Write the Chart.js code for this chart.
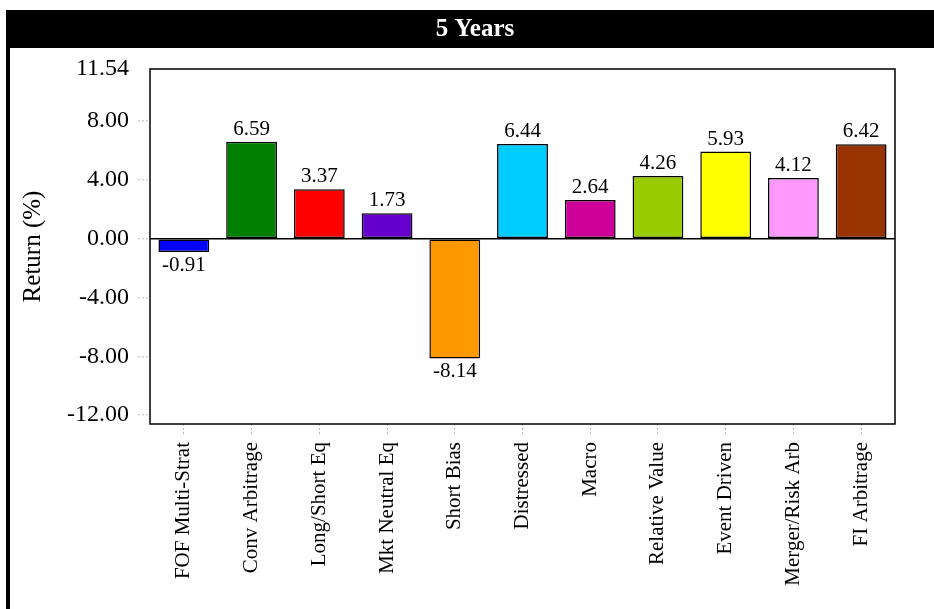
<!DOCTYPE html>
<html lang="en">
<head>
    <meta charset="UTF-8">
    <title>5 Years</title>
    <script src="https://cdn.jsdelivr.net/npm/chart.js"></script>
    <style>
        body {
            margin: 0;
            background: #ffffff;
        }
        #wrap {
            position: relative;
            width: 934px;
            height: 609px;
        }
    </style>
</head>
<body>

<div id="wrap">
    <canvas id="retChart"></canvas>
</div>

<script>
    const categorias = ['FOF Multi-Strat', 'Conv Arbitrage', 'Long/Short Eq', 'Mkt Neutral Eq', 'Short Bias',
        'Distressed', 'Macro', 'Relative Value', 'Event Driven', 'Merger/Risk Arb', 'FI Arbitrage'];
    const retornos = [-0.91, 6.59, 3.37, 1.73, -8.14, 6.44, 2.64, 4.26, 5.93, 4.12, 6.42];
    const cores = ['#0000ff', '#008000', '#ff0000', '#6600cc', '#ff9900', '#00ccff',
        '#cc0099', '#99cc00', '#ffff00', '#ff99ff', '#993300'];
    const ticksY = [11.54, 8, 4, 0, -4, -8, -12];
    const titulo = '5 Years';

    const serif = '"Liberation Serif", "Times New Roman", serif';

    // barra preta do titulo + borda esquerda + moldura do grafico + rotulos
    const moldura = {
        id: 'moldura',
        beforeDraw(chart) {
            const c = chart.ctx;
            c.save();
            c.fillStyle = '#ffffff';
            c.fillRect(0, 0, chart.width, chart.height);
            c.fillStyle = '#000000';
            c.fillRect(6, 10, chart.width - 6, 38);
            c.fillRect(6, 10, 4, chart.height - 10);
            c.fillStyle = '#ffffff';
            c.font = 'bold 25px ' + serif;
            c.textAlign = 'center';
            c.textBaseline = 'middle';
            c.fillText(titulo, 475, 30);
            c.restore();
        },
        afterDatasetsDraw(chart) {
            const c = chart.ctx;
            const a = chart.chartArea;
            c.save();
            c.strokeStyle = '#000000';
            c.lineWidth = 1.5;
            c.strokeRect(a.left, a.top, a.right - a.left, a.bottom - a.top);
            c.fillStyle = '#000000';
            c.font = '21px ' + serif;
            c.textAlign = 'center';
            chart.getDatasetMeta(0).data.forEach((bar, i) => {
                const v = retornos[i];
                if (v >= 0) {
                    c.textBaseline = 'alphabetic';
                    c.fillText(v.toFixed(2), bar.x, bar.y - 7);
                } else {
                    c.textBaseline = 'top';
                    c.fillText(v.toFixed(2), bar.x, bar.y + 3);
                }
            });
            c.restore();
        }
    };

    const ctx = document.getElementById('retChart').getContext('2d');
    new Chart(ctx, {
        type: 'bar',
        data: {
            labels: categorias,
            datasets: [{
                data: retornos,
                backgroundColor: cores,
                borderColor: '#000000',
                borderWidth: 1.5,
                borderSkipped: false,
                barPercentage: 0.75,
                categoryPercentage: 1
            }]
        },
        options: {
            responsive: true,
            maintainAspectRatio: false,
            animation: false,
            layout: {
                padding: { left: 0, right: 39, top: 69, bottom: 0 }
            },
            scales: {
                x: {
                    afterFit: s => { s.height = 185; },
                    grid: {
                        offset: false,
                        drawOnChartArea: false,
                        tickLength: 11,
                        tickColor: '#bbbbbb',
                        tickBorderDash: [2, 2]
                    },
                    border: { display: false },
                    ticks: {
                        maxRotation: 90,
                        minRotation: 90,
                        autoSkip: false,
                        padding: 7,
                        color: '#000000',
                        font: { family: serif, size: 21 }
                    }
                },
                y: {
                    min: -12.6,
                    max: 11.54,
                    afterFit: s => { s.width = 150; },
                    afterBuildTicks: s => { s.ticks = ticksY.map(v => ({ value: v })); },
                    grid: {
                        drawOnChartArea: true,
                        color: c => (c.tick && c.tick.value === 0) ? '#000000' : 'rgba(0,0,0,0)',
                        lineWidth: 1.5,
                        tickLength: 12,
                        tickColor: c => (c.tick && c.tick.value === 11.54) ? 'rgba(0,0,0,0)' : '#bbbbbb',
                        tickBorderDash: [2, 2],
                        tickWidth: 1
                    },
                    border: { display: false },
                    ticks: {
                        padding: 9,
                        color: '#000000',
                        font: { family: serif, size: 24 },
                        callback: v => v.toFixed(2)
                    },
                    title: {
                        display: true,
                        text: 'Return (%)',
                        color: '#000000',
                        font: { family: serif, size: 25 },
                        padding: { top: 18, bottom: 0 }
                    }
                }
            },
            plugins: {
                legend: { display: false },
                tooltip: { enabled: false }
            }
        },
        plugins: [moldura]
    });
</script>

</body>
</html>
